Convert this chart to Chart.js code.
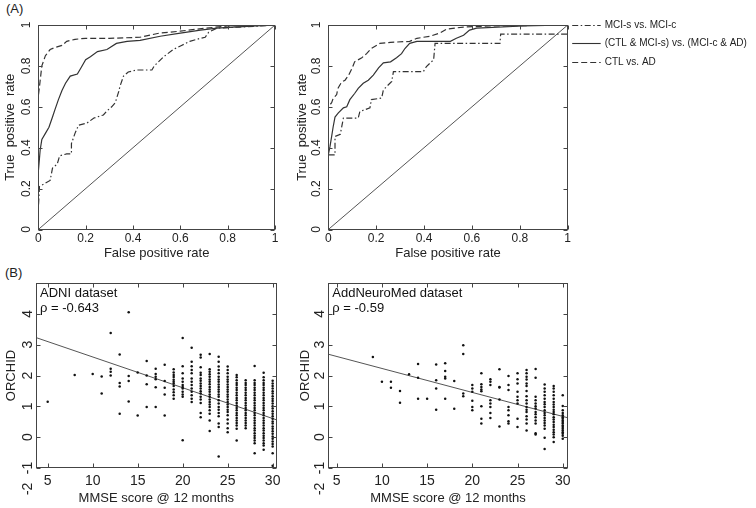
<!DOCTYPE html>
<html><head><meta charset="utf-8">
<script src="https://cdn.jsdelivr.net/npm/chart.js@4/dist/chart.umd.min.js"></script>
<style>
html,body{margin:0;padding:0;background:#fff;}
body{width:756px;height:508px;position:relative;overflow:hidden;font-family:"Liberation Sans",Arial,sans-serif;}
canvas{position:absolute;}
.pl{position:absolute;font-size:13px;line-height:13px;color:#222;}
</style></head><body>
<div class="pl" style="left:6px;top:2px">(A)</div>
<div class="pl" style="left:5px;top:266px">(B)</div>
<canvas id="rocL" width="290" height="262" style="left:0;top:0"></canvas>
<canvas id="rocR" width="466" height="262" style="left:290px;top:0"></canvas>
<canvas id="scL" width="290" height="246" style="left:0;top:262px"></canvas>
<canvas id="scR" width="300" height="246" style="left:290px;top:262px"></canvas>
<script>
// ---------- tick labels ----------
const rocTicks = [0, 0.2, 0.4, 0.6, 0.8, 1];
const rocTickLabels = ['0', '0.2', '0.4', '0.6', '0.8', '1'];
const mmseTicks = [5, 10, 15, 20, 25, 30];
const orchidTicks = [-1, 0, 1, 2, 3, 4];
const orchidExtraTick = -2;
const seriesLabels = ['MCI-s vs. MCI-c', '(CTL & MCI-s) vs. (MCI-c & AD)', 'CTL vs. AD'];

// ---------- ROC, left panel ----------
const rocL_mci_fpr = [0, 0, 0.005, 0.02, 0.05, 0.06, 0.08, 0.09, 0.12, 0.14, 0.14, 0.155, 0.17, 0.205, 0.235, 0.275, 0.29, 0.31, 0.325, 0.34, 0.345, 0.36, 0.38, 0.415, 0.48, 0.49, 0.53, 0.57, 0.605, 0.64, 0.685, 0.705, 0.72, 0.755, 0.85, 0.94, 1];
const rocL_mci_tpr = [0, 0.1, 0.21, 0.22, 0.24, 0.3, 0.32, 0.36, 0.37, 0.37, 0.42, 0.47, 0.51, 0.52, 0.545, 0.56, 0.58, 0.6, 0.62, 0.675, 0.7, 0.75, 0.77, 0.78, 0.78, 0.8, 0.845, 0.88, 0.9, 0.92, 0.935, 0.94, 0.965, 0.985, 0.99, 0.995, 1];
const rocL_comb_fpr = [0, 0, 0.008, 0.015, 0.03, 0.045, 0.06, 0.07, 0.085, 0.1, 0.115, 0.135, 0.165, 0.18, 0.2, 0.22, 0.25, 0.29, 0.33, 0.375, 0.43, 0.515, 0.6, 0.685, 0.755, 0.825, 1];
const rocL_comb_tpr = [0, 0.28, 0.39, 0.44, 0.47, 0.5, 0.55, 0.585, 0.635, 0.68, 0.715, 0.75, 0.76, 0.79, 0.83, 0.845, 0.87, 0.88, 0.91, 0.92, 0.925, 0.945, 0.96, 0.975, 0.985, 0.99, 1];
const rocL_ad_fpr = [0, 0, 0.015, 0.03, 0.05, 0.07, 0.1, 0.12, 0.155, 0.2, 0.3, 0.43, 0.51, 0.6, 0.71, 0.8, 1];
const rocL_ad_tpr = [0, 0.65, 0.8, 0.85, 0.88, 0.89, 0.9, 0.92, 0.93, 0.935, 0.935, 0.94, 0.96, 0.97, 0.985, 0.995, 1];

// ---------- ROC, right panel ----------
const rocR_mci_fpr = [0, 0, 0.028, 0.028, 0.05, 0.063, 0.125, 0.132, 0.174, 0.18, 0.223, 0.23, 0.265, 0.272, 0.397, 0.41, 0.44, 0.446, 0.717, 0.72, 1];
const rocR_mci_tpr = [0, 0.365, 0.365, 0.455, 0.465, 0.545, 0.545, 0.577, 0.595, 0.635, 0.643, 0.683, 0.724, 0.772, 0.772, 0.797, 0.83, 0.91, 0.91, 0.955, 0.955];
const rocR_comb_fpr = [0, 0, 0.007, 0.014, 0.02, 0.028, 0.042, 0.063, 0.077, 0.09, 0.11, 0.125, 0.146, 0.167, 0.188, 0.21, 0.23, 0.26, 0.285, 0.306, 0.32, 0.34, 0.37, 0.51, 0.535, 0.565, 0.59, 0.62, 0.815, 1];
const rocR_comb_tpr = [0, 0.365, 0.405, 0.455, 0.5, 0.55, 0.57, 0.595, 0.6, 0.635, 0.665, 0.69, 0.715, 0.73, 0.755, 0.79, 0.815, 0.82, 0.84, 0.86, 0.885, 0.91, 0.92, 0.92, 0.935, 0.95, 0.975, 0.985, 0.995, 1];
const rocR_ad_fpr = [0, 0, 0.014, 0.02, 0.035, 0.04, 0.055, 0.07, 0.085, 0.1, 0.11, 0.14, 0.16, 0.18, 0.215, 0.26, 0.34, 0.37, 0.425, 0.465, 0.495, 0.565, 0.675, 1];
const rocR_ad_tpr = [0, 0.6, 0.62, 0.64, 0.66, 0.69, 0.72, 0.73, 0.755, 0.79, 0.82, 0.84, 0.86, 0.885, 0.91, 0.915, 0.92, 0.935, 0.945, 0.96, 0.98, 0.99, 0.995, 1];
const chanceFpr = [0, 1];
const chanceTpr = [0, 1];

// ---------- ADNI scatter ----------
const adniScores = [5, 8, 10, 11, 12, 13, 14, 15, 16, 17, 18, 19, 20, 21, 22, 23, 24, 25, 26, 27, 28, 29, 30];
const adniValues = [
  [1.15],
  [2.02],
  [2.05],
  [1.97, 1.42],
  [3.38, 2.22, 2.12, 2.0],
  [2.68, 1.76, 1.64, 0.76],
  [4.05, 1.98, 1.82, 1.16],
  [2.1, 0.7],
  [2.47, 2.0, 1.72, 0.98],
  [2.22, 2.05, 1.96, 1.88, 1.62, 0.98],
  [2.35, 1.82, 1.6, 1.38, 0.7],
  [2.2, 2.1, 2.02, 1.95, 1.86, 1.8, 1.74, 1.66, 1.55, 1.46, 1.36, 1.25],
  [3.22, 2.3, 2.07, 1.9, 1.8, 1.69, 1.63, 1.58, 1.47, 1.38, 1.31, -0.1],
  [2.9, 2.45, 2.3, 2.18, 2.07, 1.9, 1.8, 1.69, 1.58, 1.47, 1.36, 1.25, 1.14],
  [2.67, 2.58, 2.27, 2.09, 2.02, 1.9, 1.83, 1.74, 1.66, 1.58, 1.49, 1.42, 1.31, 1.22, 1.11, 0.78, 0.65],
  [2.7, 2.2, 2.12, 2.04, 1.96, 1.87, 1.8, 1.72, 1.63, 1.55, 1.47, 1.38, 1.31, 1.22, 1.14, 1.06, 0.98, 0.87, 0.76, 0.54, 0.2],
  [2.61, 2.45, 2.29, 2.18, 2.07, 1.96, 1.87, 1.8, 1.71, 1.63, 1.55, 1.47, 1.38, 1.31, 1.2, 1.09, 0.98, 0.89, 0.78, 0.68, 0.44, 0.33, -0.63],
  [2.29, 2.18, 2.07, 1.96, 1.87, 1.8, 1.71, 1.63, 1.55, 1.47, 1.38, 1.31, 1.22, 1.14, 1.06, 0.98, 0.89, 0.82, 0.71, 0.57, 0.44, 0.29, 0.16],
  [2.02, 1.94, 1.85, 1.76, 1.69, 1.6, 1.53, 1.44, 1.36, 1.27, 1.2, 1.11, 1.03, 0.95, 0.87, 0.78, 0.71, 0.62, 0.54, 0.46, 0.38, 0.27, -0.11],
  [1.85, 1.76, 1.69, 1.6, 1.53, 1.44, 1.36, 1.27, 1.2, 1.11, 1.03, 0.95, 0.87, 0.78, 0.71, 0.62, 0.54, 0.46, 0.38, 0.29],
  [2.31, 1.85, 1.76, 1.69, 1.6, 1.53, 1.44, 1.36, 1.27, 1.2, 1.11, 1.03, 0.95, 0.87, 0.78, 0.71, 0.62, 0.54, 0.46, 0.38, 0.29, 0.22, 0.13, 0.05, -0.03, -0.11, -0.2, -0.52],
  [2.09, 1.94, 1.85, 1.76, 1.69, 1.6, 1.53, 1.44, 1.36, 1.27, 1.2, 1.11, 1.03, 0.95, 0.87, 0.78, 0.71, 0.62, 0.54, 0.46, 0.38, 0.29, 0.22, 0.13, 0.05, -0.03, -0.11, -0.2, -0.27, -0.41],
  [1.83, 1.74, 1.66, 1.58, 1.49, 1.42, 1.33, 1.25, 1.17, 1.09, 1.0, 0.93, 0.84, 0.76, 0.68, 0.6, 0.51, 0.44, 0.35, 0.27, 0.19, 0.11, 0.02, -0.05, -0.14, -0.22, -0.3, -0.52, -0.93]
];
const adniFitX = [3.7, 30.45];
const adniFitY = [3.23, 0.56];

// ---------- AddNeuroMed scatter ----------
const anmScores = [9, 10, 11, 12, 13, 14, 15, 16, 17, 18, 19, 20, 21, 22, 23, 24, 25, 26, 27, 28, 29, 30];
const anmValues = [
  [2.6],
  [1.8],
  [1.8, 1.6],
  [1.5, 1.12],
  [2.04],
  [2.37, 1.93, 1.25],
  [1.25],
  [2.36, 1.85, 1.58, 0.89],
  [2.4, 2.15, 1.96, 1.9, 1.25],
  [1.82, 0.92],
  [2.98, 2.7, 1.42, 1.33],
  [1.69, 1.58, 1.47, 1.18, 0.98, 0.87],
  [2.07, 1.72, 1.63, 1.55, 1.49, 1.0, 0.6, 0.44],
  [1.88, 1.8, 1.69, 1.2, 1.09, 0.98, 0.78, 0.62],
  [2.2, 1.63, 1.61, 1.22, 0.35],
  [1.98, 1.69, 1.53, 0.98, 0.87, 0.71, 0.52, 0.44],
  [2.07, 1.88, 1.74, 1.47, 1.31, 1.2, 1.09, 0.6, 0.33],
  [2.18, 2.07, 1.96, 1.87, 1.74, 1.66, 1.5, 1.33, 1.2, 1.09, 0.98, 0.89, 0.82, 0.68, 0.57, 0.44, 0.22],
  [2.21, 1.93, 1.31, 1.2, 1.09, 1.0, 0.93, 0.82, 0.74, 0.65, 0.54, 0.44, 0.13, 0.09],
  [1.71, 1.58, 1.47, 1.36, 1.25, 1.14, 1.07, 0.98, 0.87, 0.78, 0.71, 0.62, 0.54, 0.46, 0.38, 0.27, -0.02, -0.38],
  [1.66, 1.58, 1.47, 1.36, 1.25, 1.14, 1.06, 0.98, 0.89, 0.82, 0.74, 0.65, 0.57, 0.49, 0.4, 0.33, 0.24, 0.16, 0.09, 0.0, -0.16],
  [1.36, 1.01, 0.87, 0.78, 0.71, 0.65, 0.6, 0.54, 0.49, 0.44, 0.38, 0.33, 0.27, 0.22, 0.16, 0.11, 0.05, -0.05]
];
const anmFitX = [4.07, 30.55];
const anmFitY = [2.69, 0.63];

// ---------- helpers ----------
const FONT = '"Liberation Sans", Arial, sans-serif';
Chart.defaults.font.family = FONT;
Chart.defaults.color = '#222';
const LINE = '#333';
const pairs = (xs, ys) => xs.map((x, i) => ({x: x, y: ys[i]}));
const columns = (scores, values) => scores.flatMap((s, i) => values[i].map(v => ({x: s, y: v})));

const framePlugin = {
  id: 'frame',
  afterDatasetsDraw(chart) {
    const {ctx, chartArea: a} = chart;
    const xs = chart.scales.x, ys = chart.scales.y;
    ctx.save();
    ctx.strokeStyle = '#444';
    ctx.lineWidth = 1;
    const l = Math.round(a.left) + 0.5, r = Math.round(a.right) - 0.5;
    const t = Math.round(a.top) + 0.5, b = Math.round(a.bottom) - 0.5;
    ctx.strokeRect(l, t, r - l, b - t);
    const L = 4;
    ctx.beginPath();
    xs.ticks.forEach(tk => {
      const px = Math.round(xs.getPixelForValue(tk.value)) + 0.5;
      ctx.moveTo(px, b); ctx.lineTo(px, b - L);
      ctx.moveTo(px, t); ctx.lineTo(px, t + L);
    });
    ys.ticks.forEach(tk => {
      const py = Math.round(ys.getPixelForValue(tk.value)) + 0.5;
      ctx.moveTo(l, py); ctx.lineTo(l + L, py);
      ctx.moveTo(r, py); ctx.lineTo(r - L, py);
    });
    ctx.stroke();
    ctx.restore();
  }
};

const notesPlugin = {
  id: 'notes',
  afterDraw(chart, args, opts) {
    if (!opts || !opts.lines) return;
    const {ctx, chartArea: a} = chart;
    ctx.save();
    ctx.fillStyle = '#111';
    ctx.font = '13px ' + FONT;
    ctx.textBaseline = 'middle';
    ctx.textAlign = 'left';
    opts.lines.forEach((s, i) => ctx.fillText(s, a.left + 4, a.top + 10 + i * 15));
    if (opts.outsideTick !== undefined) {
      const py = chart.scales.y.getPixelForValue(opts.outsideTick) - 10;
      ctx.fillStyle = '#222';
      ctx.font = '14px ' + FONT;
      ctx.translate(a.left - 8, py);
      ctx.rotate(-Math.PI / 2);
      ctx.textAlign = 'center';
      ctx.fillText(String(opts.outsideTick), 0, 0);
    }
    ctx.restore();
  }
};

const sideLegendPlugin = {
  id: 'sideLegend',
  afterDraw(chart, args, opts) {
    if (!opts || !opts.items) return;
    const {ctx, chartArea: a} = chart;
    ctx.save();
    ctx.font = '10px ' + FONT;
    ctx.textBaseline = 'middle';
    ctx.fillStyle = '#222';
    opts.items.forEach((idx, i) => {
      const ds = chart.data.datasets[idx];
      const yy = Math.round(a.top + i * 18.4) + 0.5;
      ctx.strokeStyle = ds.borderColor;
      ctx.lineWidth = 1.1;
      ctx.setLineDash(ds.borderDash || []);
      ctx.beginPath();
      ctx.moveTo(a.right + 4.5, yy);
      ctx.lineTo(a.right + 33, yy);
      ctx.stroke();
      ctx.setLineDash([]);
      ctx.fillText(ds.label, a.right + 37, yy);
    });
    ctx.restore();
  }
};

function rocChart(id, sets, yW, yPad, yTitlePad, rightPad, legend) {
  const dashes = [[6, 2.5, 1.5, 2.5], [], [6, 3]];
  const datasets = sets.map((s, i) => ({
    label: seriesLabels[i], data: pairs(s[0], s[1]), showLine: true,
    borderColor: LINE, borderWidth: 1.2, borderDash: dashes[i], pointRadius: 0, fill: false
  }));
  datasets.push({label: 'chance', data: pairs(chanceFpr, chanceTpr), showLine: true,
    borderColor: '#555', borderWidth: 1, pointRadius: 0, fill: false});
  const lab = (v, i) => rocTickLabels[i];
  return new Chart(document.getElementById(id), {
    type: 'scatter',
    data: {datasets},
    plugins: [framePlugin, sideLegendPlugin],
    options: {
      responsive: false, animation: false, events: [],
      layout: {padding: {left: 0, top: 25, right: rightPad, bottom: 0}},
      plugins: {legend: {display: false}, tooltip: {enabled: false},
        sideLegend: legend ? {items: [0, 1, 2]} : {}},
      scales: {
        x: {type: 'linear', min: 0, max: 1,
          grid: {display: false, drawTicks: false}, border: {display: false},
          afterBuildTicks: s => { s.ticks = rocTicks.map(v => ({value: v})); },
          afterFit: s => { s.height = 32.5; },
          ticks: {padding: 1.5, font: {size: 12}, color: '#222', maxRotation: 0, autoSkip: false, callback: lab},
          title: {display: true, text: 'False positive rate', font: {size: 13}, color: '#222', padding: {top: 0, bottom: 1.2}}},
        y: {type: 'linear', min: 0, max: 1,
          grid: {display: false, drawTicks: false}, border: {display: false},
          afterBuildTicks: s => { s.ticks = rocTicks.map(v => ({value: v})); },
          afterFit: s => { s.width = yW; },
          ticks: {padding: yPad, font: {size: 12}, color: '#222', minRotation: 90, maxRotation: 90, crossAlign: 'center', autoSkip: false, callback: lab},
          title: {display: true, text: 'True  positive  rate', font: {size: 13}, color: '#222', padding: {top: yTitlePad, bottom: 0}}}
      }
    }
  });
}

function scatterChart(id, scores, values, fitX, fitY, xMin, xMax, yW, yTitlePad, rightPad, lines) {
  return new Chart(document.getElementById(id), {
    type: 'scatter',
    data: {datasets: [
      {label: 'subjects', data: columns(scores, values), pointRadius: 1.25, pointBackgroundColor: '#111', pointBorderWidth: 0, pointStyle: 'circle'},
      {label: 'fit', data: pairs(fitX, fitY), showLine: true, borderColor: '#555', borderWidth: 1, pointRadius: 0, fill: false}
    ]},
    plugins: [framePlugin, notesPlugin],
    options: {
      responsive: false, animation: false, events: [],
      layout: {padding: {left: 0, top: 21, right: rightPad, bottom: 0}},
      plugins: {legend: {display: false}, tooltip: {enabled: false},
        notes: {lines: lines, outsideTick: orchidExtraTick}},
      scales: {
        x: {type: 'linear', min: xMin, max: xMax,
          grid: {display: false, drawTicks: false}, border: {display: false},
          afterBuildTicks: s => { s.ticks = mmseTicks.map(v => ({value: v})); },
          afterFit: s => { s.height = 40; },
          ticks: {padding: 4.5, font: {size: 14}, color: '#222', maxRotation: 0, autoSkip: false},
          title: {display: true, text: 'MMSE score @ 12 months', font: {size: 13}, color: '#222', padding: {top: 0, bottom: 2.2}}},
        y: {type: 'linear', min: -1, max: 5,
          grid: {display: false, drawTicks: false}, border: {display: false},
          afterBuildTicks: s => { s.ticks = orchidTicks.map(v => ({value: v})); },
          afterFit: s => { s.width = yW; },
          ticks: {padding: 1.5, font: {size: 14}, color: '#222', minRotation: 90, maxRotation: 90, crossAlign: 'center', autoSkip: false},
          title: {display: true, text: 'ORCHID', font: {size: 13}, color: '#222', padding: {top: yTitlePad, bottom: 0}}}
      }
    }
  });
}

rocChart('rocL', [[rocL_mci_fpr, rocL_mci_tpr], [rocL_comb_fpr, rocL_comb_tpr], [rocL_ad_fpr, rocL_ad_tpr]], 38.3, 3, 2.2, 15, false);
rocChart('rocR', [[rocR_mci_fpr, rocR_mci_tpr], [rocR_comb_fpr, rocR_comb_tpr], [rocR_ad_fpr, rocR_ad_tpr]], 38.3, 3.3, 4.7, 188.3, true);
scatterChart('scL', adniScores, adniValues, adniFitX, adniFitY, 3.7, 30.45, 36, 3.2, 13.3, ['ADNI dataset', 'ρ = -0.643']);
scatterChart('scR', anmScores, anmValues, anmFitX, anmFitY, 4.07, 30.55, 38.3, 7.2, 22.3, ['AddNeuroMed dataset', 'ρ = -0.59']);
</script>
</body></html>
